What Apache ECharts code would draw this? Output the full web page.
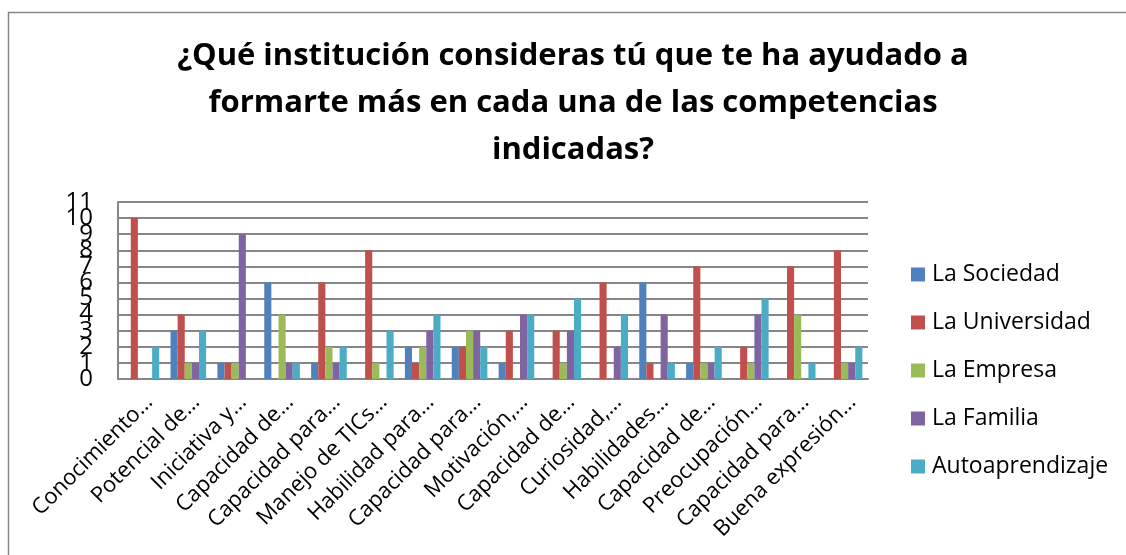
<!DOCTYPE html>
<html><head><meta charset="utf-8">
<script src="https://cdn.jsdelivr.net/npm/echarts@6/dist/echarts.min.js"></script>
<style>html,body{margin:0;padding:0;background:#fff}#c{width:1126px;height:555px}</style>
</head><body><div id="c"></div>
<script>
const categories = ["Conocimiento…","Potencial de…","Iniciativa y…","Capacidad de…","Capacidad para…","Manejo de TICs…","Habilidad para…","Capacidad para…","Motivación,…","Capacidad de…","Curiosidad,…","Habilidades…","Capacidad de…","Preocupación…","Capacidad para…","Buena expresión…"];
const seriesNames = ["La Sociedad","La Universidad","La Empresa","La Familia","Autoaprendizaje"];
const sociedad      = [0,3,1,6,1,0,2,2,1,0,0,6,1,0,0,0];
const universidad   = [10,4,1,0,6,8,1,2,3,3,6,1,7,2,7,8];
const empresa       = [0,1,1,4,2,1,2,3,0,1,0,0,1,1,4,1];
const familia       = [0,1,9,1,1,0,3,3,4,3,2,4,1,4,0,1];
const autoaprend    = [2,3,0,1,2,3,4,2,4,5,4,1,2,5,1,2];
const yTicks = [0,1,2,3,4,5,6,7,8,9,10,11];
const colors = ["#4F81BD","#C0504D","#9BBB59","#8064A2","#4BACC6"];
const titleText = "¿Qué institución consideras tú que te ha ayudado a\nformarte más en cada una de las competencias\nindicadas?";

const data = [sociedad, universidad, empresa, familia, autoaprend];
const evenTicks = yTicks.filter((v,i)=>i%2===0);
const oddTicks = yTicks.filter((v,i)=>i%2===1);
const labelStyle = {fontFamily:'Open Sans',fontSize:24,color:'#000',margin:25};
const chart = echarts.init(document.getElementById('c'), null, {renderer:'canvas'});
chart.setOption({
  animation:false,
  color: colors,
  graphic:[{type:'rect',shape:{x:8.5,y:12.5,width:1130,height:560},style:{fill:'none',stroke:'#868686',lineWidth:1.5},z:-1}],
  title:{text:titleText,left:573,textAlign:'center',top:33,padding:0,
    textStyle:{fontFamily:'Open Sans',fontWeight:'bold',fontSize:31,lineHeight:47,color:'#000'}},
  legend:{orient:'vertical',left:911,top:263,padding:0,itemGap:25,itemWidth:14,itemHeight:14,icon:'rect',
    data:seriesNames,
    textStyle:{fontFamily:'Open Sans',fontSize:23,color:'#000',padding:[0,0,0,2]}},
  grid:{left:118,right:258,top:202,bottom:176,containLabel:false,outerBoundsMode:'none'},
  xAxis:{type:'category',data:categories,
    axisLine:{show:true,lineStyle:{color:'#868686',width:2}},
    axisTick:{show:false},
    axisLabel:{interval:0,rotate:45,fontFamily:'Open Sans',fontSize:22,color:'#000',margin:12,verticalAlign:'top'}},
  yAxis:[
    {type:'value',min:yTicks[0],max:yTicks[yTicks.length-1],interval:1,position:'left',
      axisLine:{show:true,lineStyle:{color:'#868686',width:2}},
      axisTick:{show:false},
      splitLine:{show:true,lineStyle:{color:'#868686',width:2}},
      axisLabel:Object.assign({customValues:evenTicks,showMinLabel:true,showMaxLabel:true},labelStyle)},
    {type:'value',min:yTicks[0],max:yTicks[yTicks.length-1],interval:1,position:'left',offset:0,
      axisLine:{show:false},axisTick:{show:false},splitLine:{show:false},
      axisLabel:Object.assign({customValues:oddTicks,showMinLabel:true,showMaxLabel:true},labelStyle)}
  ],
  series: seriesNames.map((n,i)=>({name:n,type:'bar',yAxisIndex:0,data:data[i],barGap:'0%',barCategoryGap:'24%'}))
});
</script></body></html>
